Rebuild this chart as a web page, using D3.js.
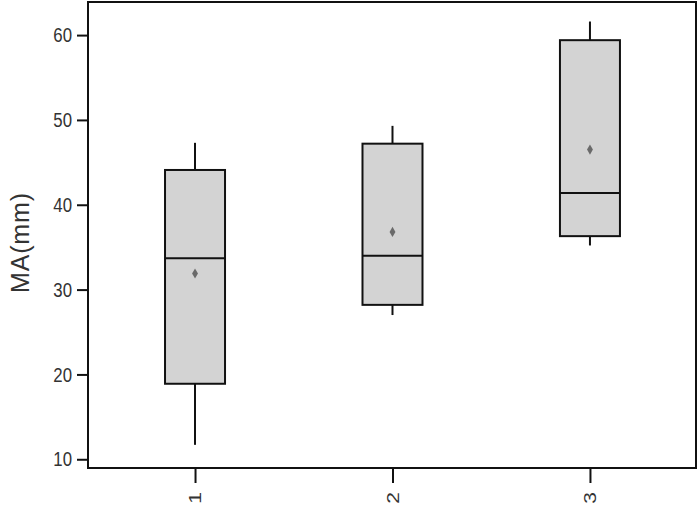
<!DOCTYPE html>
<html><head><meta charset="utf-8">
<script src="https://cdn.jsdelivr.net/npm/d3@7"></script>
<style>body{margin:0;background:#fff}svg{display:block}</style>
</head><body>
<script>
const categories = ["1","2","3"];
const whiskerLow  = [11.7, 27.0, 35.2];
const q1          = [18.9, 28.2, 36.3];
const median      = [33.7, 34.0, 41.4];
const q3          = [44.1, 47.2, 59.4];
const whiskerHigh = [47.3, 49.3, 61.6];
const means       = [31.9, 36.8, 46.5];
const yTicks      = [10, 20, 30, 40, 50, 60];

const W = 698, H = 506;
const L = 88, R = 696, T = 2, B = 468;
const svg = d3.select("body").append("svg").attr("width", W).attr("height", H);

const x = d3.scaleLinear().domain([0.458, 3.537]).range([L, R]);
const y = d3.scaleLinear().domain([8.97, 63.9]).range([B, T]);
const boxW = 60;
const data = categories.map((c, i) => ({c, i: i + 1, lo: whiskerLow[i], q1: q1[i], med: median[i], q3: q3[i], hi: whiskerHigh[i], mean: means[i]}));

const g = svg.append("g");
g.selectAll(".wu").data(data).enter().append("line")
  .attr("x1", d => x(d.i)).attr("x2", d => x(d.i))
  .attr("y1", d => y(d.hi)).attr("y2", d => y(d.q3))
  .attr("stroke", "#111").attr("stroke-width", 2);
g.selectAll(".wl").data(data).enter().append("line")
  .attr("x1", d => x(d.i)).attr("x2", d => x(d.i))
  .attr("y1", d => y(d.q1)).attr("y2", d => y(d.lo))
  .attr("stroke", "#111").attr("stroke-width", 2);
g.selectAll(".box").data(data).enter().append("rect")
  .attr("x", d => x(d.i) - boxW / 2).attr("width", boxW)
  .attr("y", d => y(d.q3)).attr("height", d => y(d.q1) - y(d.q3))
  .attr("fill", "#d3d3d3").attr("stroke", "#111").attr("stroke-width", 2);
g.selectAll(".med").data(data).enter().append("line")
  .attr("x1", d => x(d.i) - boxW / 2).attr("x2", d => x(d.i) + boxW / 2)
  .attr("y1", d => y(d.med)).attr("y2", d => y(d.med))
  .attr("stroke", "#111").attr("stroke-width", 2);
g.selectAll(".mean").data(data).enter().append("path")
  .attr("d", d3.symbol().type(d3.symbolDiamond).size(30))
  .attr("transform", d => `translate(${x(d.i)},${y(d.mean)})`)
  .attr("fill", "#6a6a6a");

svg.append("rect").attr("x", L).attr("y", T).attr("width", R - L).attr("height", B - T)
  .attr("fill", "none").attr("stroke", "#111").attr("stroke-width", 2);

const FONT = "'Liberation Sans',Arial,sans-serif";
const yAxis = d3.axisLeft(y).tickValues(yTicks).tickSize(11).tickPadding(5);
const ya = svg.append("g").attr("transform", `translate(${L},0)`).call(yAxis);
ya.select(".domain").remove();
ya.selectAll(".tick line").attr("stroke", "#111").attr("stroke-width", 2);
ya.selectAll(".tick text")
  .attr("font-family", FONT).attr("font-size", 21).attr("fill", "#333")
  .attr("x", 0).attr("transform", "translate(-16,0) scale(0.8,1)");

const xAxis = d3.axisBottom(x).tickValues([1, 2, 3]).tickFormat(d => categories[d - 1]).tickSize(15).tickPadding(6);
const xa = svg.append("g").attr("transform", `translate(0,${B})`).call(xAxis);
xa.select(".domain").remove();
xa.selectAll(".tick line").attr("stroke", "#111").attr("stroke-width", 2);
xa.selectAll(".tick text")
  .attr("font-family", FONT).attr("font-size", 21).attr("fill", "#333")
  .attr("text-anchor", "end").attr("dy", "0.35em")
  .attr("transform", "translate(0,24) rotate(-90) scale(1,0.8)").attr("y", 0).attr("x", 0);

svg.append("text")
  .attr("transform", "translate(29,243) rotate(-90)")
  .attr("text-anchor", "middle")
  .attr("font-family", FONT)
  .attr("font-size", 25).attr("fill", "#333")
  .attr("textLength", 100).attr("lengthAdjust", "spacing")
  .text("MA(mm)");
</script>
</body></html>
